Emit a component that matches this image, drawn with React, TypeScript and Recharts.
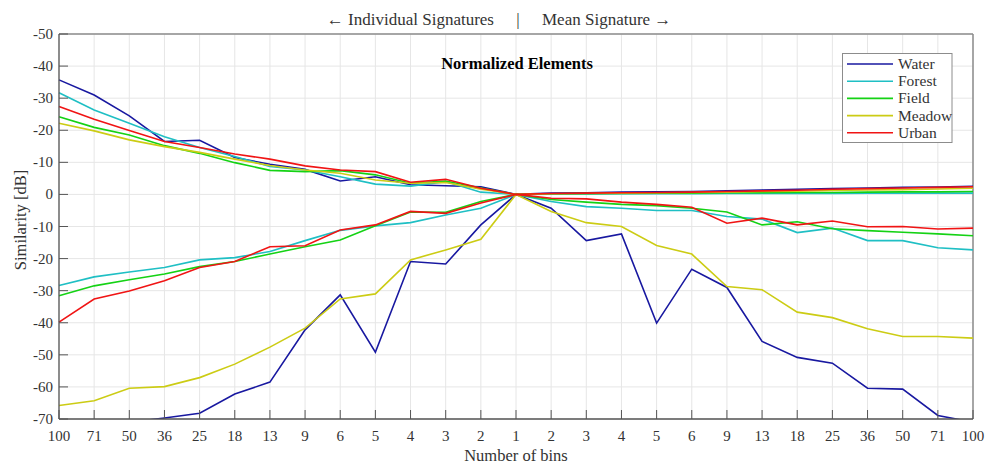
import React from "react";
import {
  LineChart,
  Line,
  XAxis,
  YAxis,
  CartesianGrid,
  ReferenceLine,
} from "recharts";

// x categories: individual signatures (left) | mean signature (right)
const bins = [
  "100", "71", "50", "36", "25", "18", "13", "9", "6", "5", "4", "3", "2", "1",
  "2", "3", "4", "5", "6", "9", "13", "18", "25", "36", "50", "71", "100",
];

const yTicks = [-70, -60, -50, -40, -30, -20, -10, 0, 10, 20, 30, 40, 50];

// upper branch is drawn above 0 but labelled with negative dB
const waterUp = [35.7, 31.0, 24.5, 16.5, 16.9, 11.5, 9.4, 7.8, 4.2, 5.5, 3.0, 2.7, 2.4, 0, 0.4, 0.5, 0.7, 0.8, 0.9, 1.1, 1.4, 1.6, 1.8, 2.0, 2.2, 2.3, 2.5];
const waterLow = [-77, -74, -71, -69.7, -68.2, -62.2, -58.5, -42.2, -31.3, -49.2, -20.9, -21.7, -9.5, 0, -4.3, -14.4, -12.3, -40.1, -23.3, -29.0, -45.8, -50.8, -52.6, -60.4, -60.7, -68.9, -71.0];

const forestUp = [31.7, 26.3, 22.2, 18.0, 14.6, 11.8, 8.7, 7.6, 5.5, 3.2, 2.6, 4.0, 0.7, 0, 0.1, 0.1, 0.2, 0.2, 0.2, 0.3, 0.3, 0.3, 0.3, 0.4, 0.4, 0.4, 0.4];
const forestLow = [-28.4, -25.7, -24.2, -22.8, -20.4, -19.7, -17.8, -14.4, -11.2, -9.8, -8.8, -6.4, -4.3, 0, -2.2, -3.8, -4.3, -5.0, -5.0, -6.9, -7.7, -11.9, -10.5, -14.4, -14.4, -16.6, -17.3];

const fieldUp = [24.2, 20.9, 18.5, 15.2, 12.8, 9.9, 7.5, 7.1, 7.4, 6.1, 3.5, 4.2, 2.0, 0, 0.2, 0.3, 0.3, 0.4, 0.4, 0.5, 0.5, 0.6, 0.6, 0.7, 0.8, 0.8, 0.9];
const fieldLow = [-31.6, -28.5, -26.6, -24.8, -22.5, -20.9, -18.6, -16.3, -14.2, -9.8, -5.5, -5.6, -2.2, 0, -1.6, -2.4, -3.1, -3.5, -4.3, -5.5, -9.5, -8.5, -10.7, -11.3, -11.8, -12.3, -12.9];

const meadowUp = [22.2, 19.8, 17.0, 14.9, 13.1, 11.0, 9.0, 7.6, 6.6, 4.5, 3.5, 3.7, 1.6, 0, 0.2, 0.3, 0.4, 0.5, 0.6, 0.7, 0.9, 1.0, 1.2, 1.4, 1.5, 1.7, 1.9];
const meadowLow = [-65.8, -64.3, -60.4, -59.9, -57.1, -52.9, -47.6, -41.7, -32.6, -31.0, -20.4, -17.3, -14.0, 0, -5.3, -8.8, -10.0, -15.9, -18.6, -28.7, -29.7, -36.7, -38.4, -41.9, -44.3, -44.3, -44.8];

const urbanUp = [27.4, 23.4, 19.9, 16.5, 14.6, 12.6, 11.0, 8.9, 7.6, 7.1, 3.8, 4.7, 1.9, 0, 0.3, 0.4, 0.5, 0.6, 0.7, 0.9, 1.1, 1.3, 1.6, 1.8, 2.0, 2.2, 2.4];
const urbanLow = [-39.8, -32.6, -30.1, -26.9, -22.8, -20.9, -16.3, -16.0, -11.1, -9.5, -5.3, -5.9, -2.7, 0, -1.2, -1.4, -2.4, -3.1, -4.0, -9.0, -7.4, -9.5, -8.3, -10.1, -10.0, -10.8, -10.5];

const series = [
  { name: "Water", color: "#1818a0", up: waterUp, low: waterLow },
  { name: "Forest", color: "#1fbfc4", up: forestUp, low: forestLow },
  { name: "Field", color: "#14d214", up: fieldUp, low: fieldLow },
  { name: "Meadow", color: "#cccc14", up: meadowUp, low: meadowLow },
  { name: "Urban", color: "#f01414", up: urbanUp, low: urbanLow },
];

const data = bins.map((b, i) => {
  const row: any = { i, bin: b };
  for (const s of series) {
    row[s.name + "Up"] = s.up[i];
    row[s.name + "Low"] = s.low[i];
  }
  return row;
});

const W = 988;
const H = 465;
const LEFT = 59;
const TOP = 34;
const RIGHT = 973;
const BOTTOM = 419;
const FONT = '"Liberation Serif", "Times New Roman", "DejaVu Serif", serif';
const BOX = "#8c8c8c";
const AXIS = "#555555";
const TEXT = "#333333";
const serif = { fontFamily: FONT };

function XTick(props: any) {
  const { x, payload } = props;
  return (
    <g>
      <line x1={x} x2={x} y1={BOTTOM} y2={BOTTOM - 9} stroke={AXIS} />
      <text x={x} y={BOTTOM + 22} textAnchor="middle" fontSize={15} style={serif} fill={TEXT}>
        {bins[payload.value]}
      </text>
    </g>
  );
}

function YTick(props: any) {
  const { y, payload } = props;
  const v = payload.value;
  return (
    <g>
      <line x1={LEFT} x2={LEFT + 9} y1={y} y2={y} stroke={AXIS} />
      <text x={LEFT - 6} y={y + 5} textAnchor="end" fontSize={15} style={serif} fill={TEXT}>
        {v === 0 ? "0" : `-${Math.abs(v)}`}
      </text>
    </g>
  );
}

export default function App() {
  const yMid = 220;
  return (
    <div style={{ position: "absolute", left: 0, top: 0, width: W, height: H, background: "#fff" }}>
      <LineChart
        width={W}
        height={H}
        data={data}
        margin={{ top: TOP, right: W - RIGHT, bottom: 0, left: 0 }}
      >
        <CartesianGrid stroke="#e6e6e6" />
        <ReferenceLine y={50} stroke={BOX} strokeWidth={1.5} />
        <ReferenceLine x={bins.length - 1} stroke={BOX} strokeWidth={1.5} />
        <XAxis
          type="number"
          dataKey="i"
          domain={[0, bins.length - 1]}
          ticks={bins.map((_, i) => i)}
          interval={0}
          height={H - BOTTOM}
          tick={<XTick />}
          tickLine={false}
          axisLine={{ stroke: AXIS, strokeWidth: 1.3 }}
        />
        <YAxis
          type="number"
          domain={[-70, 50]}
          ticks={yTicks}
          interval={0}
          allowDataOverflow
          width={LEFT}
          tick={<YTick />}
          tickLine={false}
          axisLine={{ stroke: AXIS, strokeWidth: 1.3 }}
        />
        {series.flatMap((s) => [
          <Line
            key={s.name + "Up"}
            type="linear"
            dataKey={s.name + "Up"}
            stroke={s.color}
            strokeWidth={1.6}
            dot={false}
            isAnimationActive={false}
          />,
          <Line
            key={s.name + "Low"}
            type="linear"
            dataKey={s.name + "Low"}
            stroke={s.color}
            strokeWidth={1.6}
            dot={false}
            isAnimationActive={false}
          />,
        ])}
      </LineChart>
      <svg
        width={W}
        height={H}
        style={{ position: "absolute", left: 0, top: 0, pointerEvents: "none", fontFamily: FONT }}
      >
        <text x={494} y={25} textAnchor="end" fontSize={17} style={serif} fill={TEXT}>
          ← Individual Signatures
        </text>
        <text x={518} y={25} textAnchor="middle" fontSize={17} style={serif} fill={TEXT}>
          |
        </text>
        <text x={542} y={25} textAnchor="start" fontSize={17} style={serif} fill={TEXT}>
          Mean Signature →
        </text>
        <text x={517} y={69} textAnchor="middle" fontSize={16.5} fontWeight="bold" style={serif} fill="#000">
          Normalized Elements
        </text>
        <text
          x={26}
          y={yMid}
          textAnchor="middle"
          fontSize={16.5}
          style={serif}
          fill={TEXT}
          transform={`rotate(-90 26 ${yMid})`}
        >
          Similarity [dB]
        </text>
        <text x={(LEFT + RIGHT) / 2} y={461} textAnchor="middle" fontSize={16.5} style={serif} fill={TEXT}>
          Number of bins
        </text>
        <rect x={842.5} y={53.5} width={109.5} height={89} fill="#fff" stroke={BOX} />
        {series.map((s, k) => (
          <g key={s.name}>
            <line x1={847} x2={893} y1={64 + k * 17.2} y2={64 + k * 17.2} stroke={s.color} strokeWidth={1.6} />
            <text x={898} y={64 + k * 17.2 + 5} fontSize={15.5} style={serif} fill={TEXT}>
              {s.name}
            </text>
          </g>
        ))}
      </svg>
    </div>
  );
}
